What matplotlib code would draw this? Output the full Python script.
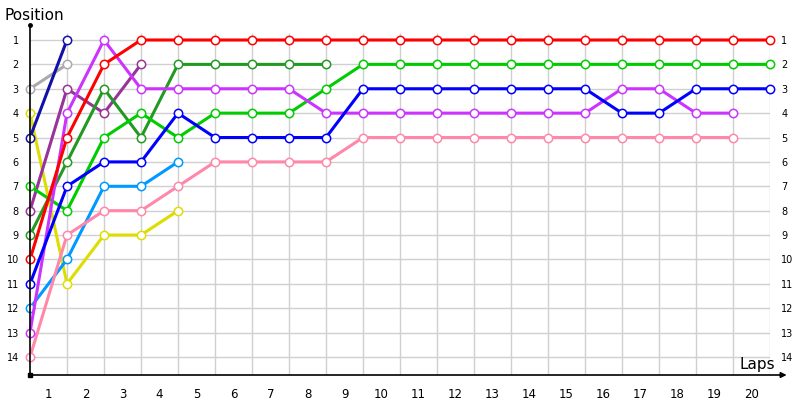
import matplotlib
matplotlib.use("Agg")
from matplotlib import pyplot as plt

# positions per lap, index 0 = start grid
red = [10, 5, 2, 1, 1, 1, 1, 1, 1, 1, 1, 1, 1, 1, 1, 1, 1, 1, 1, 1, 1]
dark_green = [9, 6, 3, 5, 2, 2, 2, 2, 2]
lime = [7, 8, 5, 4, 5, 4, 4, 4, 3, 2, 2, 2, 2, 2, 2, 2, 2, 2, 2, 2, 2]
blue = [11, 7, 6, 6, 4, 5, 5, 5, 5, 3, 3, 3, 3, 3, 3, 3, 4, 4, 3, 3, 3]
magenta = [13, 4, 1, 3, 3, 3, 3, 3, 4, 4, 4, 4, 4, 4, 4, 4, 3, 3, 4, 4]
pink = [14, 9, 8, 8, 7, 6, 6, 6, 6, 5, 5, 5, 5, 5, 5, 5, 5, 5, 5, 5]
light_blue = [12, 10, 7, 7, 6]
yellow = [4, 11, 9, 9, 8]
dark_purple = [8, 3, 4, 2]
gray = [3, 2]
navy = [5, 1]

series = [
    (yellow, "#dddd00"),
    (gray, "#aaaaaa"),
    (navy, "#1111aa"),
    (dark_purple, "#993399"),
    (light_blue, "#0099ff"),
    (pink, "#ff88aa"),
    (dark_green, "#229922"),
    (lime, "#00cc00"),
    (magenta, "#cc33ff"),
    (blue, "#0000ff"),
    (red, "#ff0000"),
]

n_laps = 20
positions = list(range(1, 15))
y_low, y_top = 14.74, 0.385

fig = plt.figure(figsize=(8, 4), dpi=100)
ax = fig.add_axes([30 / 800, 25 / 400, 740 / 800, 350 / 400])
ax.set_xlim(0, n_laps)
ax.set_ylim(y_low, y_top)
for s in ax.spines.values():
    s.set_visible(False)

# grid
ax.hlines(positions, 0, n_laps, color="#d0d0d0", lw=1, zorder=0)
ax.vlines(range(1, n_laps + 1), 0.7, y_low, color="#d0d0d0", lw=1, zorder=0)

for vals, col in series:
    ax.plot(range(len(vals)), vals, color=col, lw=2.2, marker="o", ms=6,
            mfc="white", mec=col, mew=1.1, clip_on=False, zorder=3)

# axes lines
ax.plot([0, 0], [y_top, y_low], color="black", lw=1.2, clip_on=False, zorder=4)
ax.plot([0], [y_top], "o", color="black", ms=2.5, clip_on=False, zorder=4)
ax.plot([0], [y_low], "s", color="black", ms=2.5, clip_on=False, zorder=4)
ax.annotate("", xy=(20.45, y_low), xytext=(0, y_low), annotation_clip=False,
            arrowprops=dict(arrowstyle="-|>", color="black", lw=1.2,
                            mutation_scale=8, shrinkA=0, shrinkB=0))

ax.set_yticks(positions)
ax.set_yticklabels([str(p) for p in positions])
ax.tick_params(axis="y", length=0, pad=8, labelsize=7, labelright=True)
ax.set_xticks([i - 0.5 for i in range(1, n_laps + 1)])
ax.set_xticklabels([str(i) for i in range(1, n_laps + 1)])
ax.tick_params(axis="x", length=0, pad=9, labelsize=8.5)

fig.text(5 / 800, 1 - 15 / 400, "Position", fontsize=11, va="center", ha="left")
ax.text(20.15, 14.3, "Laps", fontsize=11, va="center", ha="right")

fig.savefig("out.png", dpi=100)
